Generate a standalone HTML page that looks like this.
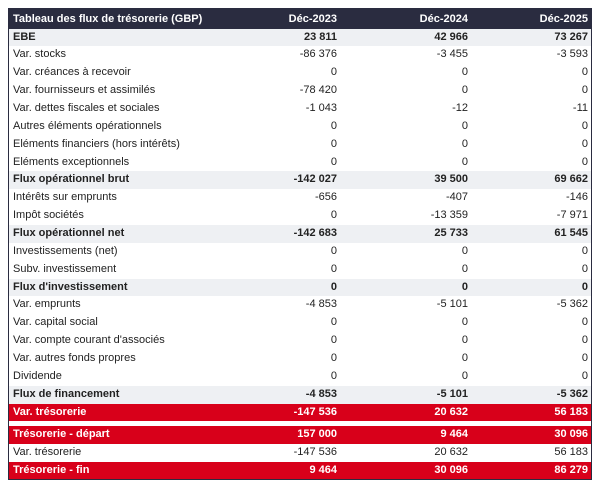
<!DOCTYPE html>
<html><head><meta charset="utf-8"><style>
body{margin:0;width:600px;height:491px;background:#fff;font-family:"Liberation Sans","DejaVu Sans",sans-serif;font-size:11px;color:#222;}
#t{position:absolute;left:8px;top:8px;width:584px;height:472px;border:1px solid #2a2c40;box-sizing:border-box;overflow:hidden;}
.r{position:absolute;left:0;width:582px;height:17.86px;line-height:17.86px;}
.r span{position:absolute;top:0;}
.l{left:4px;}
.a{right:254px;}.b{right:123px;}.c{right:3px;}
.h{background:#2a2c40;color:#fff;font-weight:bold;height:20px;line-height:20px;}
.g{background:#eef0f3;font-weight:bold;}
.red{background:#d8001a;color:#fff;font-weight:bold;}
</style></head><body>
<div id="t">
<div class="r h" style="top:0"><span class="l">Tableau des flux de trésorerie (GBP)</span><span class="a">Déc-2023</span><span class="b">Déc-2024</span><span class="c">Déc-2025</span></div>
<div id="rows"></div>
</div>
<script>
var d=[
["EBE","23 811","42 966","73 267","g"],
["Var. stocks","-86 376","-3 455","-3 593"],
["Var. créances à recevoir","0","0","0"],
["Var. fournisseurs et assimilés","-78 420","0","0"],
["Var. dettes fiscales et sociales","-1 043","-12","-11"],
["Autres éléments opérationnels","0","0","0"],
["Eléments financiers (hors intérêts)","0","0","0"],
["Eléments exceptionnels","0","0","0"],
["Flux opérationnel brut","-142 027","39 500","69 662","g"],
["Intérêts sur emprunts","-656","-407","-146"],
["Impôt sociétés","0","-13 359","-7 971"],
["Flux opérationnel net","-142 683","25 733","61 545","g"],
["Investissements (net)","0","0","0"],
["Subv. investissement","0","0","0"],
["Flux d'investissement","0","0","0","g"],
["Var. emprunts","-4 853","-5 101","-5 362"],
["Var. capital social","0","0","0"],
["Var. compte courant d'associés","0","0","0"],
["Var. autres fonds propres","0","0","0"],
["Dividende","0","0","0"],
["Flux de financement","-4 853","-5 101","-5 362","g"],
["Var. trésorerie","-147 536","20 632","56 183","red"],
null,
["Trésorerie - départ","157 000","9 464","30 096","red"],
["Var. trésorerie","-147 536","20 632","56 183"],
["Trésorerie - fin","9 464","30 096","86 279","red"]];
var h="",y=19.5;
d.forEach(function(r){
 if(!r){y+=5;return;}
 h+='<div class="r '+(r[4]||'')+'" style="top:'+y.toFixed(2)+'px"><span class="l">'+r[0]+'</span><span class="a">'+r[1]+'</span><span class="b">'+r[2]+'</span><span class="c">'+r[3]+'</span></div>';
 y+=17.86;
});
document.getElementById("rows").outerHTML=h;
</script>
</body></html>
